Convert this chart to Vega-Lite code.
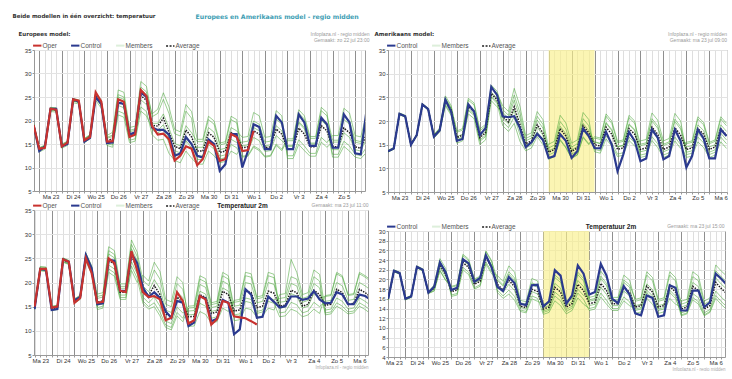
{
"$schema": "https://vega.github.io/schema/vega-lite/v6.json",
"background": "white",
"padding": {"left": 12, "top": 13, "right": 0, "bottom": 0},
"config": {
  "font": "Liberation Sans",
  "view": {"stroke": "#9a9a9a", "strokeWidth": 1},
  "axis": {"labelFont": "Liberation Sans", "labelFontSize": 6, "labelColor": "#333", "tickColor": "#999", "tickSize": 2, "domainColor": "#999", "labelPadding": 0, "titleFont": "Liberation Sans"},
  "axisX": {"grid": true},
  "axisY": {"gridColor": "#e3e3e3", "labelPadding": 1, "grid": true},
  "legend": {"orient": "top", "direction": "horizontal", "symbolType": "stroke", "symbolSize": 70, "symbolStrokeWidth": 2, "symbolOpacity": 1, "labelFont": "Liberation Sans", "labelFontSize": 6.5, "labelColor": "#555", "columnPadding": 10, "padding": 0, "offset": 0, "labelOffset": 2, "rowPadding": 0},
  "title": {"font": "DejaVu Sans", "fontWeight": "bold", "color": "#333", "offset": 0}
},
"title": {"text": "Beide modellen in één overzicht: temperatuur", "anchor": "start", "frame": "bounds", "fontSize": 5.5, "offset": -6},
"datasets": {
"tl": [
{"t":-6,"O":19,"C":19,"A":19,"m1":19.4,"m2":19.2,"m3":18.8,"m4":18.5,"m5":19.3,"m6":18.9},
{"t":0,"O":14,"C":13.5,"A":13.8,"m1":14.2,"m2":14,"m3":13.6,"m4":13.3,"m5":14.1,"m6":13.7},
{"t":6,"O":14.2,"C":14.5,"A":14.4,"m1":14.8,"m2":14.6,"m3":14.2,"m4":13.9,"m5":14.7,"m6":14.3},
{"t":12,"O":22.5,"C":22.5,"A":22.4,"m1":22.8,"m2":22.6,"m3":22.2,"m4":21.9,"m5":22.7,"m6":22.3},
{"t":18,"O":22.3,"C":22.5,"A":22.3,"m1":22.7,"m2":22.5,"m3":22.1,"m4":21.8,"m5":22.6,"m6":22.2},
{"t":24,"O":14.5,"C":14.5,"A":14.6,"m1":15,"m2":14.8,"m3":14.4,"m4":14.1,"m5":14.9,"m6":14.5},
{"t":30,"O":15.3,"C":15,"A":15.2,"m1":15.6,"m2":15.4,"m3":15,"m4":14.7,"m5":15.5,"m6":15.1},
{"t":36,"O":24.5,"C":24.5,"A":24.3,"m1":24.7,"m2":24.5,"m3":24.1,"m4":23.8,"m5":24.6,"m6":24.2},
{"t":42,"O":24.2,"C":24,"A":24,"m1":24.4,"m2":24.2,"m3":23.8,"m4":23.5,"m5":24.3,"m6":23.9},
{"t":48,"O":15.8,"C":15.5,"A":15.8,"m1":16.2,"m2":16,"m3":15.6,"m4":15.3,"m5":16.1,"m6":15.7},
{"t":54,"O":16.5,"C":16.3,"A":16.6,"m1":17,"m2":16.8,"m3":16.4,"m4":16.1,"m5":16.9,"m6":16.5},
{"t":60,"O":26,"C":25,"A":25.2,"m1":26,"m2":25.5,"m3":24.8,"m4":24.3,"m5":25.7,"m6":25},
{"t":66,"O":24,"C":23.5,"A":23.5,"m1":24.3,"m2":23.8,"m3":23.1,"m4":22.6,"m5":24,"m6":23.3},
{"t":72,"O":15.5,"C":15.2,"A":15.8,"m1":16.8,"m2":15.5,"m3":15,"m4":16.2,"m5":16.4,"m6":14.7},
{"t":78,"O":15.6,"C":15.3,"A":16,"m1":17.5,"m2":15.5,"m3":14.8,"m4":16.6,"m5":16.9,"m6":14.3},
{"t":84,"O":24.5,"C":23.8,"A":24,"m1":26.5,"m2":23.2,"m3":22,"m4":25,"m5":25.5,"m6":21.2},
{"t":90,"O":24,"C":23.5,"A":23.5,"m1":26,"m2":22.7,"m3":21.5,"m4":24.5,"m5":25,"m6":20.7},
{"t":96,"O":16.5,"C":17,"A":17,"m1":18.5,"m2":16.5,"m3":15.8,"m4":17.6,"m5":17.9,"m6":15.3},
{"t":102,"O":17,"C":17.5,"A":17.3,"m1":18.8,"m2":16.8,"m3":16.1,"m4":17.9,"m5":18.2,"m6":15.6},
{"t":108,"O":26.5,"C":26,"A":25.3,"m1":28.3,"m2":24.4,"m3":22.9,"m4":26.5,"m5":27.1,"m6":22},
{"t":114,"O":25.2,"C":25,"A":24.3,"m1":27.3,"m2":23.4,"m3":21.9,"m4":25.5,"m5":26.1,"m6":21},
{"t":120,"O":18.8,"C":18.5,"A":19,"m1":20.8,"m2":19.4,"m3":17,"m4":18,"m5":21.4,"m6":18.4},
{"t":126,"O":17,"C":18,"A":18.8,"m1":21.5,"m2":19.4,"m3":15.8,"m4":17.3,"m5":22.4,"m6":17.9},
{"t":132,"O":17.2,"C":18,"A":20.5,"m1":24.5,"m2":21.4,"m3":16,"m4":18.2,"m5":25.9,"m6":19.1},
{"t":138,"O":16,"C":17,"A":17.5,"m1":21.5,"m2":18.4,"m3":13,"m4":15.2,"m5":22.9,"m6":16.1},
{"t":144,"O":11.5,"C":12.5,"A":14.5,"m1":17.2,"m2":15.1,"m3":11.5,"m4":13,"m5":18.1,"m6":13.6},
{"t":150,"O":12.5,"C":13,"A":14,"m1":16.7,"m2":14.6,"m3":11,"m4":12.5,"m5":17.6,"m6":13.1},
{"t":156,"O":14.5,"C":16.5,"A":18,"m1":22,"m2":18.9,"m3":13.5,"m4":15.7,"m5":23.4,"m6":16.6},
{"t":162,"O":14,"C":15,"A":16.5,"m1":20.5,"m2":17.4,"m3":12,"m4":14.2,"m5":21.9,"m6":15.1},
{"t":168,"O":10.5,"C":12.5,"A":13.5,"m1":12.5,"m2":15.5,"m3":10.7,"m4":14.3,"m5":16,"m6":11.7},
{"t":174,"O":11.8,"C":12.1,"A":13.5,"m1":12.5,"m2":15.5,"m3":10.7,"m4":14.3,"m5":16,"m6":11.7},
{"t":180,"O":15.5,"C":16,"A":17.4,"m1":16,"m2":20.2,"m3":13.5,"m4":18.5,"m5":20.9,"m6":14.9},
{"t":186,"O":14.6,"C":15,"A":16.4,"m1":15,"m2":19.2,"m3":12.5,"m4":17.5,"m5":19.9,"m6":13.9},
{"t":192,"O":11.4,"C":9.3,"A":13.2,"m1":12.4,"m2":14.8,"m3":11,"m4":13.8,"m5":15.2,"m6":11.8},
{"t":198,"O":11.8,"C":10.7,"A":13.5,"m1":12.7,"m2":15.1,"m3":11.3,"m4":14.1,"m5":15.5,"m6":12.1},
{"t":204,"O":17.1,"C":17.1,"A":17.4,"m1":16,"m2":20.2,"m3":13.5,"m4":18.5,"m5":20.9,"m6":14.9},
{"t":210,"O":16.5,"C":17.1,"A":16.7,"m1":15.3,"m2":19.5,"m3":12.8,"m4":17.8,"m5":20.2,"m6":14.2},
{"t":216,"O":13.5,"C":10,"A":14.2,"m1":15.4,"m2":12.4,"m3":14.6,"m4":16.4,"m5":13.4,"m6":12.2},
{"t":222,"O":13.7,"C":13.5,"A":14.4,"m1":15.6,"m2":12.6,"m3":14.8,"m4":16.6,"m5":13.6,"m6":12.4},
{"t":228,"O":17.8,"C":19.2,"A":17.8,"m1":19.9,"m2":14.6,"m3":18.5,"m4":21.7,"m5":16.4,"m6":14.3},
{"t":234,"C":18.6,"A":17.1,"m1":19.2,"m2":13.9,"m3":17.8,"m4":21,"m5":15.7,"m6":13.6},
{"t":240,"C":13.9,"A":14.2,"m1":15.4,"m2":12.4,"m3":14.6,"m4":16.4,"m5":13.4,"m6":12.2},
{"t":246,"C":13.9,"A":14.4,"m1":15.6,"m2":12.6,"m3":14.8,"m4":16.6,"m5":13.6,"m6":12.4},
{"t":252,"C":21,"A":18.2,"m1":20.3,"m2":15,"m3":18.9,"m4":22.1,"m5":16.8,"m6":14.7},
{"t":258,"C":19.6,"A":17.1,"m1":19.2,"m2":13.9,"m3":17.8,"m4":21,"m5":15.7,"m6":13.6},
{"t":264,"C":13.9,"A":13.9,"m1":12.5,"m2":16.1,"m3":14.7,"m4":11.9,"m5":14.5,"m6":15.7},
{"t":270,"C":13.9,"A":13.9,"m1":12.5,"m2":16.1,"m3":14.7,"m4":11.9,"m5":14.5,"m6":15.7},
{"t":276,"C":21.3,"A":18.4,"m1":15.9,"m2":22.3,"m3":19.8,"m4":14.9,"m5":19.5,"m6":21.6},
{"t":282,"C":19.6,"A":17.1,"m1":14.6,"m2":21,"m3":18.5,"m4":13.6,"m5":18.2,"m6":20.3},
{"t":288,"C":14.6,"A":14.4,"m1":13,"m2":16.6,"m3":15.2,"m4":12.4,"m5":15,"m6":16.2},
{"t":294,"C":14.6,"A":14.4,"m1":13,"m2":16.6,"m3":15.2,"m4":12.4,"m5":15,"m6":16.2},
{"t":300,"C":20.6,"A":18.9,"m1":16.4,"m2":22.8,"m3":20.3,"m4":15.4,"m5":20,"m6":22.1},
{"t":306,"C":19.2,"A":17.8,"m1":15.3,"m2":21.7,"m3":19.2,"m4":14.3,"m5":18.9,"m6":21},
{"t":312,"C":14.2,"A":14.4,"m1":16.8,"m2":13.8,"m3":12.8,"m4":15.4,"m5":12.2,"m6":15.8},
{"t":318,"C":14.2,"A":14.4,"m1":16.8,"m2":13.8,"m3":12.8,"m4":15.4,"m5":12.2,"m6":15.8},
{"t":324,"C":21.3,"A":18.4,"m1":22.6,"m2":17.4,"m3":15.6,"m4":20.2,"m5":14.5,"m6":20.9},
{"t":330,"C":19.6,"A":17.4,"m1":21.6,"m2":16.4,"m3":14.6,"m4":19.2,"m5":13.5,"m6":19.9},
{"t":336,"C":13,"A":14.4,"m1":16.8,"m2":13.8,"m3":12.8,"m4":15.4,"m5":12.2,"m6":15.8},
{"t":342,"C":12.8,"A":14.1,"m1":16.5,"m2":13.5,"m3":12.5,"m4":15.1,"m5":11.9,"m6":15.5},
{"t":348,"C":22,"A":17.1,"m1":21.3,"m2":16.1,"m3":14.3,"m4":18.9,"m5":13.2,"m6":19.6}
],
"tr": [
{"t":0,"C":13.6,"A":13.6,"m1":13.8,"m2":13.7,"m3":13.5,"m4":13.4,"m5":13.7,"m6":13.6},
{"t":6,"C":14.2,"A":14.2,"m1":14.4,"m2":14.3,"m3":14.1,"m4":14,"m5":14.3,"m6":14.2},
{"t":12,"C":21.5,"A":21.5,"m1":21.7,"m2":21.6,"m3":21.4,"m4":21.3,"m5":21.6,"m6":21.5},
{"t":18,"C":21,"A":21,"m1":21.2,"m2":21.1,"m3":20.9,"m4":20.8,"m5":21.1,"m6":21},
{"t":24,"C":15,"A":15,"m1":15.2,"m2":15.1,"m3":14.9,"m4":14.8,"m5":15.1,"m6":15},
{"t":30,"C":17,"A":17,"m1":17.2,"m2":17.1,"m3":16.9,"m4":16.8,"m5":17.1,"m6":17},
{"t":36,"C":23.5,"A":23.5,"m1":23.7,"m2":23.6,"m3":23.4,"m4":23.3,"m5":23.6,"m6":23.5},
{"t":42,"C":22.5,"A":22.5,"m1":22.7,"m2":22.6,"m3":22.4,"m4":22.3,"m5":22.6,"m6":22.5},
{"t":48,"C":16.7,"A":16.8,"m1":17.2,"m2":16.7,"m3":16.5,"m4":17,"m5":17,"m6":16.4},
{"t":54,"C":18,"A":18.1,"m1":18.5,"m2":18,"m3":17.8,"m4":18.3,"m5":18.3,"m6":17.7},
{"t":60,"C":24.5,"A":24.3,"m1":25.3,"m2":24,"m3":23.5,"m4":24.7,"m5":24.9,"m6":23.2},
{"t":66,"C":22,"A":22.3,"m1":23.3,"m2":22,"m3":21.5,"m4":22.7,"m5":22.9,"m6":21.2},
{"t":72,"C":15.8,"A":16.5,"m1":17.6,"m2":16.7,"m3":15.3,"m4":15.9,"m5":17.9,"m6":16.1},
{"t":78,"C":16.2,"A":17,"m1":18.1,"m2":17.2,"m3":15.8,"m4":16.4,"m5":18.4,"m6":16.6},
{"t":84,"C":23.5,"A":23,"m1":24.4,"m2":23.3,"m3":21.5,"m4":22.2,"m5":24.8,"m6":22.5},
{"t":90,"C":22,"A":22,"m1":23.4,"m2":22.3,"m3":20.5,"m4":21.2,"m5":23.8,"m6":21.5},
{"t":96,"C":17,"A":16.5,"m1":17.9,"m2":16.8,"m3":15,"m4":15.7,"m5":18.3,"m6":16},
{"t":102,"C":18.5,"A":17.5,"m1":18.9,"m2":17.8,"m3":16,"m4":16.7,"m5":19.3,"m6":17},
{"t":108,"C":27.2,"A":25.8,"m1":27.2,"m2":26.1,"m3":24.3,"m4":25,"m5":27.6,"m6":25.3},
{"t":114,"C":25.5,"A":24.5,"m1":25.9,"m2":24.8,"m3":23,"m4":23.7,"m5":26.3,"m6":24},
{"t":120,"C":21,"A":21,"m1":23.2,"m2":19.8,"m3":21.8,"m4":19,"m5":22.4,"m6":20.6},
{"t":126,"C":20.8,"A":19.8,"m1":22,"m2":18.6,"m3":20.6,"m4":17.8,"m5":21.2,"m6":19.4},
{"t":132,"C":21,"A":23,"m1":26.9,"m2":20.9,"m3":24.4,"m4":19.5,"m5":25.5,"m6":22.3},
{"t":138,"C":18.5,"A":19.2,"m1":23.1,"m2":17.1,"m3":20.6,"m4":15.7,"m5":21.7,"m6":18.5},
{"t":144,"C":14.5,"A":15.2,"m1":16.9,"m2":14.3,"m3":15.8,"m4":13.7,"m5":16.3,"m6":14.9},
{"t":150,"C":15.5,"A":15.8,"m1":17.5,"m2":14.9,"m3":16.4,"m4":14.3,"m5":16.9,"m6":15.5},
{"t":156,"C":17.3,"A":19.2,"m1":22,"m2":17.7,"m3":20.2,"m4":16.7,"m5":21,"m6":18.7},
{"t":162,"C":16,"A":17.5,"m1":20.3,"m2":16,"m3":18.5,"m4":15,"m5":19.3,"m6":17},
{"t":168,"C":12.2,"A":13.4,"m1":14.3,"m2":12,"m3":13.7,"m4":15.1,"m5":12.8,"m6":11.9},
{"t":174,"C":12.6,"A":14,"m1":14.9,"m2":12.6,"m3":14.3,"m4":15.7,"m5":13.4,"m6":12.5},
{"t":180,"C":17.2,"A":18.4,"m1":19.9,"m2":16.1,"m3":18.9,"m4":21.2,"m5":17.4,"m6":15.9},
{"t":186,"C":15.8,"A":16.8,"m1":18.3,"m2":14.5,"m3":17.3,"m4":19.6,"m5":15.8,"m6":14.3},
{"t":192,"C":12.2,"A":13.6,"m1":14.5,"m2":12.2,"m3":13.9,"m4":15.3,"m5":13,"m6":12.1},
{"t":198,"C":13.6,"A":14.3,"m1":15.2,"m2":12.9,"m3":14.6,"m4":16,"m5":13.7,"m6":12.8},
{"t":204,"C":18.4,"A":19,"m1":20.5,"m2":16.7,"m3":19.5,"m4":21.8,"m5":18,"m6":16.5},
{"t":210,"C":16.8,"A":17.5,"m1":19,"m2":15.2,"m3":18,"m4":20.3,"m5":16.5,"m6":15},
{"t":216,"C":14.3,"A":15,"m1":14,"m2":16.7,"m3":15.6,"m4":13.5,"m5":15.5,"m6":16.4},
{"t":222,"C":14.2,"A":14.7,"m1":13.7,"m2":16.4,"m3":15.3,"m4":13.2,"m5":15.2,"m6":16.1},
{"t":228,"C":17.7,"A":18.7,"m1":16.9,"m2":21.5,"m3":19.7,"m4":16.2,"m5":19.5,"m6":21},
{"t":234,"C":15,"A":17.2,"m1":15.4,"m2":20,"m3":18.2,"m4":14.7,"m5":18,"m6":19.5},
{"t":240,"C":9.4,"A":14,"m1":13,"m2":15.7,"m3":14.6,"m4":12.5,"m5":14.5,"m6":15.4},
{"t":246,"C":12.9,"A":14.3,"m1":13.3,"m2":16,"m3":14.9,"m4":12.8,"m5":14.8,"m6":15.7},
{"t":252,"C":17.7,"A":18.4,"m1":16.6,"m2":21.2,"m3":19.4,"m4":15.9,"m5":19.2,"m6":20.7},
{"t":258,"C":15.8,"A":17.2,"m1":15.4,"m2":20,"m3":18.2,"m4":14.7,"m5":18,"m6":19.5},
{"t":264,"C":11.5,"A":14,"m1":15.8,"m2":13.5,"m3":12.8,"m4":14.8,"m5":12.3,"m6":15.1},
{"t":270,"C":12.1,"A":14.3,"m1":16.1,"m2":13.8,"m3":13.1,"m4":15.1,"m5":12.6,"m6":15.4},
{"t":276,"C":18.2,"A":18.7,"m1":21.7,"m2":17.9,"m3":16.7,"m4":20,"m5":15.9,"m6":20.5},
{"t":282,"C":16.5,"A":17.2,"m1":20.2,"m2":16.4,"m3":15.2,"m4":18.5,"m5":14.4,"m6":19},
{"t":288,"C":11.9,"A":14,"m1":15.8,"m2":13.5,"m3":12.8,"m4":14.8,"m5":12.3,"m6":15.1},
{"t":294,"C":12.6,"A":14.5,"m1":16.3,"m2":14,"m3":13.3,"m4":15.3,"m5":12.8,"m6":15.6},
{"t":300,"C":18.2,"A":18.6,"m1":21.6,"m2":17.8,"m3":16.6,"m4":19.9,"m5":15.8,"m6":20.4},
{"t":306,"C":15.8,"A":17,"m1":20,"m2":16.2,"m3":15,"m4":18.3,"m5":14.2,"m6":18.8},
{"t":312,"C":10.2,"A":14,"m1":13.4,"m2":15.2,"m3":12.3,"m4":14.5,"m5":15.5,"m6":12.9},
{"t":318,"C":12.6,"A":14.3,"m1":13.7,"m2":15.5,"m3":12.6,"m4":14.8,"m5":15.8,"m6":13.2},
{"t":324,"C":18.2,"A":18.4,"m1":17.4,"m2":20.4,"m3":15.6,"m4":19.2,"m5":20.9,"m6":16.6},
{"t":330,"C":16.3,"A":17.2,"m1":16.2,"m2":19.2,"m3":14.4,"m4":18,"m5":19.7,"m6":15.4},
{"t":336,"C":12.1,"A":14,"m1":13.4,"m2":15.2,"m3":12.3,"m4":14.5,"m5":15.5,"m6":12.9},
{"t":342,"C":12.1,"A":14.5,"m1":13.9,"m2":15.7,"m3":12.8,"m4":15,"m5":16,"m6":13.4},
{"t":348,"C":18.2,"A":18.4,"m1":17.4,"m2":20.4,"m3":15.6,"m4":19.2,"m5":20.9,"m6":16.6},
{"t":354,"C":16.8,"A":17,"m1":16,"m2":19,"m3":14.2,"m4":17.8,"m5":19.5,"m6":15.2}
],
"bl": [
{"t":6,"O":15,"C":14.5,"A":14.8,"m1":14.6,"m2":15.2,"m3":14.4,"m4":15,"m5":15.3,"m6":14.5},
{"t":12,"O":22.8,"C":22.8,"A":22.8,"m1":22.6,"m2":23.2,"m3":22.4,"m4":23,"m5":23.3,"m6":22.5},
{"t":18,"O":22.8,"C":22.6,"A":22.7,"m1":22.5,"m2":23.1,"m3":22.3,"m4":22.9,"m5":23.2,"m6":22.4},
{"t":24,"O":14.8,"C":14.3,"A":14.6,"m1":14.4,"m2":15,"m3":14.2,"m4":14.8,"m5":15.1,"m6":14.3},
{"t":30,"O":15,"C":14.5,"A":14.8,"m1":14.6,"m2":15.2,"m3":14.4,"m4":15,"m5":15.3,"m6":14.5},
{"t":36,"O":24.8,"C":24.8,"A":24.6,"m1":24.4,"m2":25,"m3":24.2,"m4":24.8,"m5":25.1,"m6":24.3},
{"t":42,"O":24.3,"C":24.3,"A":24.1,"m1":23.9,"m2":24.5,"m3":23.7,"m4":24.3,"m5":24.6,"m6":23.8},
{"t":48,"O":15.8,"C":16.3,"A":16.1,"m1":15.9,"m2":16.5,"m3":15.7,"m4":16.3,"m5":16.6,"m6":15.8},
{"t":54,"O":16.8,"C":17,"A":16.9,"m1":16.7,"m2":17.3,"m3":16.5,"m4":17.1,"m5":17.4,"m6":16.6},
{"t":60,"O":25,"C":25.7,"A":25.2,"m1":24.9,"m2":25.9,"m3":24.4,"m4":25.6,"m5":26.1,"m6":24.7},
{"t":66,"O":22,"C":23,"A":22.6,"m1":22.3,"m2":23.3,"m3":21.8,"m4":23,"m5":23.5,"m6":22.1},
{"t":72,"O":15.8,"C":15.5,"A":15.9,"m1":16.7,"m2":14.4,"m3":17.1,"m4":15.3,"m5":17.6,"m6":14.8},
{"t":78,"O":16,"C":15.7,"A":16.2,"m1":17,"m2":14.7,"m3":17.4,"m4":15.6,"m5":17.9,"m6":15.1},
{"t":84,"O":25,"C":24.7,"A":24.6,"m1":25.9,"m2":22.1,"m3":26.6,"m4":23.6,"m5":27.4,"m6":22.8},
{"t":90,"O":24,"C":24.5,"A":23.8,"m1":25.1,"m2":21.3,"m3":25.8,"m4":22.8,"m5":26.6,"m6":22},
{"t":96,"O":18.3,"C":18.3,"A":18,"m1":18.8,"m2":16.5,"m3":19.2,"m4":17.4,"m5":19.7,"m6":16.9},
{"t":102,"O":18,"C":18.2,"A":18,"m1":18.8,"m2":16.5,"m3":19.2,"m4":17.4,"m5":19.7,"m6":16.9},
{"t":108,"O":26.5,"C":26,"A":25.5,"m1":27,"m2":22.5,"m3":27.9,"m4":24.3,"m5":28.8,"m6":23.4},
{"t":114,"O":22.5,"C":24,"A":23,"m1":24.5,"m2":20,"m3":25.4,"m4":21.8,"m5":26.3,"m6":20.9},
{"t":120,"O":18,"C":19,"A":18.5,"m1":16.2,"m2":21.5,"m3":19.3,"m4":17,"m5":20.5,"m6":15.7},
{"t":126,"O":17,"C":17,"A":17.3,"m1":15,"m2":20.3,"m3":18.1,"m4":15.8,"m5":19.3,"m6":14.5},
{"t":132,"O":17.2,"C":18,"A":19.4,"m1":15.8,"m2":24.2,"m3":20.6,"m4":17,"m5":22.6,"m6":15},
{"t":138,"O":16.5,"C":16.8,"A":17.5,"m1":13.9,"m2":22.3,"m3":18.7,"m4":15.1,"m5":20.7,"m6":13.1},
{"t":144,"O":12.2,"C":14,"A":13.5,"m1":11.2,"m2":16.5,"m3":14.3,"m4":12,"m5":15.5,"m6":10.7},
{"t":150,"O":12.7,"C":12.7,"A":13,"m1":10.7,"m2":16,"m3":13.8,"m4":11.5,"m5":15,"m6":10.2},
{"t":156,"O":18,"C":16.2,"A":17,"m1":13.8,"m2":21.2,"m3":18.1,"m4":14.9,"m5":19.8,"m6":13.1},
{"t":162,"O":16.2,"C":15.8,"A":15.8,"m1":12.6,"m2":20,"m3":16.9,"m4":13.7,"m5":18.6,"m6":11.9},
{"t":168,"O":11.5,"C":11,"A":12.9,"m1":15.1,"m2":11.9,"m3":10.9,"m4":14.1,"m5":13.3,"m6":14.7},
{"t":174,"O":12.2,"C":11.7,"A":13,"m1":15.2,"m2":12,"m3":11,"m4":14.2,"m5":13.4,"m6":14.8},
{"t":180,"O":17.2,"C":17.2,"A":17.5,"m1":21.4,"m2":15.7,"m3":14,"m4":19.6,"m5":18.2,"m6":20.7},
{"t":186,"O":16.5,"C":16.7,"A":16.9,"m1":20.8,"m2":15.1,"m3":13.4,"m4":19,"m5":17.6,"m6":20.1},
{"t":192,"O":11.3,"C":12,"A":13.6,"m1":15.8,"m2":12.6,"m3":11.6,"m4":14.8,"m5":14,"m6":15.4},
{"t":198,"O":12.4,"C":12.5,"A":13.9,"m1":16.1,"m2":12.9,"m3":11.9,"m4":15.1,"m5":14.3,"m6":15.7},
{"t":204,"O":16.2,"C":16.4,"A":18.2,"m1":22.1,"m2":16.4,"m3":14.7,"m4":20.3,"m5":18.9,"m6":21.4},
{"t":210,"O":15.8,"C":15.8,"A":17.5,"m1":21.4,"m2":15.7,"m3":14,"m4":19.6,"m5":18.2,"m6":20.7},
{"t":216,"O":13,"C":9.3,"A":14.1,"m1":13.3,"m2":15.9,"m3":16.3,"m4":12.1,"m5":12.9,"m6":15.1},
{"t":222,"O":12.8,"C":10.3,"A":14.3,"m1":13.5,"m2":16.1,"m3":16.5,"m4":12.3,"m5":13.1,"m6":15.3},
{"t":228,"O":12.6,"C":18.6,"A":18.2,"m1":16.8,"m2":21.4,"m3":22.1,"m4":14.7,"m5":16.1,"m6":20},
{"t":234,"O":12,"C":17.5,"A":17.9,"m1":16.5,"m2":21.1,"m3":21.8,"m4":14.4,"m5":15.8,"m6":19.7},
{"t":240,"O":11.3,"C":12.7,"A":14.8,"m1":14,"m2":16.6,"m3":17,"m4":12.8,"m5":13.6,"m6":15.8},
{"t":246,"C":12.9,"A":15.1,"m1":14.3,"m2":16.9,"m3":17.3,"m4":13.1,"m5":13.9,"m6":16.1},
{"t":252,"C":17.1,"A":18.2,"m1":16.8,"m2":21.4,"m3":22.1,"m4":14.7,"m5":16.1,"m6":20},
{"t":258,"C":16,"A":17.8,"m1":16.4,"m2":21,"m3":21.7,"m4":14.3,"m5":15.7,"m6":19.6},
{"t":264,"C":14.8,"A":15.1,"m1":16.7,"m2":13.7,"m3":14.7,"m4":17.5,"m5":12.9,"m6":15.9},
{"t":270,"C":15.1,"A":15.3,"m1":16.9,"m2":13.9,"m3":14.9,"m4":17.7,"m5":13.1,"m6":16.1},
{"t":276,"C":17.1,"A":18.4,"m1":21.2,"m2":15.9,"m3":17.7,"m4":24.8,"m5":14.5,"m6":19.8},
{"t":282,"C":17.1,"A":17.9,"m1":20.7,"m2":15.4,"m3":17.2,"m4":22.1,"m5":14,"m6":19.3},
{"t":288,"C":16.4,"A":15.1,"m1":16.7,"m2":13.7,"m3":14.7,"m4":17.5,"m5":12.9,"m6":15.9},
{"t":294,"C":16.7,"A":15.5,"m1":17.1,"m2":14.1,"m3":15.1,"m4":17.9,"m5":13.3,"m6":16.3},
{"t":300,"C":18.2,"A":18.4,"m1":21.2,"m2":15.9,"m3":17.7,"m4":22.6,"m5":14.5,"m6":19.8},
{"t":306,"C":16.5,"A":17.5,"m1":20.3,"m2":15,"m3":16.8,"m4":21.7,"m5":13.6,"m6":18.9},
{"t":312,"C":15.7,"A":15.3,"m1":13.3,"m2":16.1,"m3":17.1,"m4":14.3,"m5":17.3,"m6":13.7},
{"t":318,"C":15.8,"A":15.5,"m1":13.5,"m2":16.3,"m3":17.3,"m4":14.5,"m5":17.5,"m6":13.9},
{"t":324,"C":18,"A":18.6,"m1":15.1,"m2":20,"m3":21.8,"m4":16.8,"m5":22.1,"m6":15.8},
{"t":330,"C":17.5,"A":17.9,"m1":14.4,"m2":19.3,"m3":21.1,"m4":16.1,"m5":21.4,"m6":15.1},
{"t":336,"C":15.5,"A":15.5,"m1":13.5,"m2":16.3,"m3":17.3,"m4":14.5,"m5":17.5,"m6":13.9},
{"t":342,"C":15.5,"A":15.7,"m1":13.7,"m2":16.5,"m3":17.5,"m4":14.7,"m5":17.7,"m6":14.1},
{"t":348,"C":17.5,"A":18.6,"m1":15.1,"m2":20,"m3":21.8,"m4":16.8,"m5":22.1,"m6":15.8},
{"t":354,"C":17.2,"A":17.9,"m1":14.4,"m2":19.3,"m3":21.1,"m4":16.1,"m5":21.4,"m6":15.1},
{"t":360,"C":16.4,"A":17,"m1":13.5,"m2":18.4,"m3":20.2,"m4":15.2,"m5":20.5,"m6":14.2}
],
"br": [
{"t":6,"C":16,"A":16,"m1":16.1,"m2":15.8,"m3":16,"m4":16.2,"m5":15.9,"m6":15.8},
{"t":12,"C":21.8,"A":21.8,"m1":21.9,"m2":21.6,"m3":21.8,"m4":22,"m5":21.7,"m6":21.6},
{"t":18,"C":21.3,"A":21.3,"m1":21.4,"m2":21.1,"m3":21.3,"m4":21.5,"m5":21.2,"m6":21.1},
{"t":24,"C":16,"A":16,"m1":16.1,"m2":15.8,"m3":16,"m4":16.2,"m5":15.9,"m6":15.8},
{"t":30,"C":16.5,"A":16.5,"m1":16.6,"m2":16.3,"m3":16.5,"m4":16.7,"m5":16.4,"m6":16.3},
{"t":36,"C":22.6,"A":22.6,"m1":22.7,"m2":22.4,"m3":22.6,"m4":22.8,"m5":22.5,"m6":22.4},
{"t":42,"C":22,"A":22,"m1":22.1,"m2":21.8,"m3":22,"m4":22.2,"m5":21.9,"m6":21.8},
{"t":48,"C":17.3,"A":17.3,"m1":17.4,"m2":17.1,"m3":17.3,"m4":17.5,"m5":17.2,"m6":17.1},
{"t":54,"C":18.5,"A":18.2,"m1":18.6,"m2":17.7,"m3":18.3,"m4":18.9,"m5":18,"m6":17.6},
{"t":60,"C":23.5,"A":23,"m1":23.7,"m2":21.9,"m3":23.2,"m4":24.3,"m5":22.5,"m6":21.8},
{"t":66,"C":21.5,"A":21,"m1":21.7,"m2":19.9,"m3":21.2,"m4":22.3,"m5":20.5,"m6":19.8},
{"t":72,"C":17.8,"A":17.5,"m1":16.8,"m2":18.6,"m3":17.9,"m4":16.5,"m5":17.8,"m6":18.4},
{"t":78,"C":18.3,"A":17.8,"m1":17.1,"m2":18.9,"m3":18.2,"m4":16.8,"m5":18.1,"m6":18.7},
{"t":84,"C":24.2,"A":23.5,"m1":22.5,"m2":25.2,"m3":24.1,"m4":22,"m5":24,"m6":24.9},
{"t":90,"C":23.3,"A":22.5,"m1":21.5,"m2":24.2,"m3":23.1,"m4":21,"m5":23,"m6":23.9},
{"t":96,"C":19.5,"A":19,"m1":18.3,"m2":20.1,"m3":19.4,"m4":18,"m5":19.3,"m6":19.9},
{"t":102,"C":20.3,"A":19.6,"m1":18.9,"m2":20.7,"m3":20,"m4":18.6,"m5":19.9,"m6":20.5},
{"t":108,"C":25,"A":24.5,"m1":23.6,"m2":25.9,"m3":25,"m4":23.2,"m5":24.9,"m6":25.7},
{"t":114,"C":22.5,"A":22.5,"m1":21.6,"m2":23.9,"m3":23,"m4":21.2,"m5":22.9,"m6":23.7},
{"t":120,"C":18.5,"A":19,"m1":20.8,"m2":18.5,"m3":17.8,"m4":19.8,"m5":17.3,"m6":20.1},
{"t":126,"C":17.6,"A":17.8,"m1":19.6,"m2":17.3,"m3":16.6,"m4":18.6,"m5":16.1,"m6":18.9},
{"t":132,"C":20.5,"A":19.8,"m1":22.8,"m2":19,"m3":17.8,"m4":21.1,"m5":17,"m6":21.6},
{"t":138,"C":19.2,"A":18.5,"m1":21.5,"m2":17.7,"m3":16.5,"m4":19.8,"m5":15.7,"m6":20.3},
{"t":144,"C":15,"A":14.5,"m1":15.7,"m2":14.2,"m3":13.7,"m4":15,"m5":13.4,"m6":15.2},
{"t":150,"C":14.7,"A":14.2,"m1":15.4,"m2":13.9,"m3":13.4,"m4":14.7,"m5":13.1,"m6":14.9},
{"t":156,"C":18.8,"A":18,"m1":20.2,"m2":17.5,"m3":16.6,"m4":18.9,"m5":16,"m6":19.3},
{"t":162,"C":18.9,"A":17.5,"m1":19.7,"m2":17,"m3":16.1,"m4":18.4,"m5":15.5,"m6":18.8},
{"t":168,"C":14.4,"A":13.9,"m1":13.5,"m2":14.7,"m3":12.8,"m4":14.2,"m5":14.9,"m6":13.2},
{"t":174,"C":15.5,"A":14.3,"m1":13.9,"m2":15.1,"m3":13.2,"m4":14.6,"m5":15.3,"m6":13.6},
{"t":180,"C":21.9,"A":18.4,"m1":17.4,"m2":20.4,"m3":15.6,"m4":19.2,"m5":20.9,"m6":16.6},
{"t":186,"C":20.8,"A":17.4,"m1":16.4,"m2":19.4,"m3":14.6,"m4":18.2,"m5":19.9,"m6":15.6},
{"t":192,"C":15,"A":14.3,"m1":13.8,"m2":15.3,"m3":12.9,"m4":14.7,"m5":15.6,"m6":13.4},
{"t":198,"C":16.7,"A":15,"m1":14.5,"m2":16,"m3":13.6,"m4":15.4,"m5":16.3,"m6":14.1},
{"t":204,"C":22.9,"A":19,"m1":18,"m2":21,"m3":16.2,"m4":19.8,"m5":21.5,"m6":17.2},
{"t":210,"C":21.2,"A":17.7,"m1":16.7,"m2":19.7,"m3":14.9,"m4":18.5,"m5":20.2,"m6":15.9},
{"t":216,"C":16.9,"A":15,"m1":16.3,"m2":14.6,"m3":14,"m4":15.5,"m5":15.8,"m6":13.6},
{"t":222,"C":17.4,"A":15.3,"m1":16.6,"m2":14.9,"m3":14.3,"m4":15.8,"m5":16.1,"m6":13.9},
{"t":228,"C":23.2,"A":19.2,"m1":21.7,"m2":18.4,"m3":17.2,"m4":20.2,"m5":20.7,"m6":16.4},
{"t":234,"C":20.8,"A":17.7,"m1":20.2,"m2":16.9,"m3":15.7,"m4":18.7,"m5":19.2,"m6":14.9},
{"t":240,"C":16,"A":15,"m1":16.3,"m2":14.6,"m3":14,"m4":15.5,"m5":15.8,"m6":13.6},
{"t":246,"C":15.1,"A":15,"m1":16.3,"m2":14.6,"m3":14,"m4":15.5,"m5":15.8,"m6":13.6},
{"t":252,"C":18.6,"A":18.4,"m1":20.9,"m2":17.6,"m3":16.4,"m4":19.4,"m5":19.9,"m6":15.6},
{"t":258,"C":16.9,"A":17.4,"m1":19.9,"m2":16.6,"m3":15.4,"m4":18.4,"m5":18.9,"m6":14.6},
{"t":264,"C":13,"A":14.3,"m1":15.5,"m2":14.6,"m3":13,"m4":13.6,"m5":15.9,"m6":13.9},
{"t":270,"C":12.6,"A":14.6,"m1":15.8,"m2":14.9,"m3":13.3,"m4":13.9,"m5":16.2,"m6":14.2},
{"t":276,"C":16.7,"A":18.6,"m1":20.9,"m2":19.1,"m3":16.1,"m4":17.3,"m5":21.6,"m6":17.8},
{"t":282,"C":16.2,"A":17.4,"m1":19.7,"m2":17.9,"m3":14.9,"m4":16.1,"m5":20.4,"m6":16.6},
{"t":288,"C":12.3,"A":14.3,"m1":15.5,"m2":14.6,"m3":13,"m4":13.6,"m5":15.9,"m6":13.9},
{"t":294,"C":12.6,"A":14.6,"m1":15.8,"m2":14.9,"m3":13.3,"m4":13.9,"m5":16.2,"m6":14.2},
{"t":300,"C":18.8,"A":18.6,"m1":20.9,"m2":19.1,"m3":16.1,"m4":17.3,"m5":21.6,"m6":17.8},
{"t":306,"C":18.3,"A":17.4,"m1":19.7,"m2":17.9,"m3":14.9,"m4":16.1,"m5":20.4,"m6":16.6},
{"t":312,"C":13.6,"A":13.9,"m1":12.7,"m2":15.5,"m3":14.3,"m4":13.1,"m5":14.9,"m6":12.5},
{"t":318,"C":13.6,"A":14.3,"m1":13.1,"m2":15.9,"m3":14.7,"m4":13.5,"m5":15.3,"m6":12.9},
{"t":324,"C":17.7,"A":18.6,"m1":16.3,"m2":21.6,"m3":19.4,"m4":17.1,"m5":20.6,"m6":15.8},
{"t":330,"C":17.7,"A":17.7,"m1":15.4,"m2":20.7,"m3":18.5,"m4":16.2,"m5":19.7,"m6":14.9},
{"t":336,"C":14.3,"A":13.9,"m1":12.7,"m2":15.5,"m3":14.3,"m4":13.1,"m5":14.9,"m6":12.5},
{"t":342,"C":15.3,"A":14.6,"m1":13.4,"m2":16.2,"m3":15,"m4":13.8,"m5":15.6,"m6":13.2},
{"t":348,"C":21.2,"A":19.4,"m1":16.7,"m2":23,"m3":20.3,"m4":17.6,"m5":21.8,"m6":16.1},
{"t":354,"C":20.1,"A":18.1,"m1":15.4,"m2":21.7,"m3":19,"m4":16.3,"m5":20.5,"m6":14.8},
{"t":360,"C":18.8,"A":17,"m1":14.3,"m2":20.6,"m3":17.9,"m4":15.2,"m5":19.4,"m6":13.7}
]
},
"resolve": {"scale": {"color": "independent"}},
"vconcat": [{
  "title": {"text": "Europees en Amerikaans model - regio midden", "anchor": "start", "frame": "bounds", "fontSize": 6.2, "color": "#3d9db3", "dx": 183, "offset": 12},
  "resolve": {"scale": {"color": "independent"}},
  "spacing": -2,
  "hconcat": [
    {"spacing": 1, "resolve": {"scale": {"color": "independent"}}, "vconcat": [
      {"title": {"text": "Europees model:", "anchor": "start", "frame": "bounds", "fontSize": 5.5, "offset": -5.5},
       "resolve": {"scale": {"color": "independent"}},
       "vconcat": [{
        "title": {"text": ["Infoplaza.nl - regio midden", "Gemaakt: zo 22 jul 23:00"], "anchor": "end", "frame": "bounds", "font": "Liberation Sans", "fontSize": 5, "fontWeight": "normal", "color": "#9a9a9a", "lineHeight": 6, "offset": -1.5, "dx": 4},
        "resolve": {"scale": {"color": "independent"}},
        "vconcat": [{
        "width": 331, "height": 141,
        "data": {"name": "tl"},
        "transform": [{"fold": ["A","C","O","m1","m2","m3","m4","m5","m6"], "as": ["k","v"]}],
        "encoding": {
          "x": {"field": "t", "type": "quantitative", "scale": {"domain": [-5.6, 346.5], "nice": false, "zero": false},
            "axis": {"title": null, "grid": true, "values": [0,6,12,18,24,30,36,42,48,54,60,66,72,78,84,90,96,102,108,114,120,126,132,138,144,150,156,162,168,174,180,186,192,198,204,210,216,222,228,234,240,246,252,258,264,270,276,282,288,294,300,306,312,318,324,330,336,342],
              "gridColor": {"condition": {"test": "datum.value % 24 === 0", "value": "#8f8f8f"}, "value": "#dedede"},
              "labelOverlap": false, "labelFlush": false,
              "labelExpr": "datum.value % 24 === 12 ? ['Ma 23','Di 24','Wo 25','Do 26','Vr 27','Za 28','Zo 29','Ma 30','Di 31','Wo 1','Do 2','Vr 3','Za 4','Zo 5','Ma 6'][floor(datum.value / 24)] : ''"}},
          "y": {"field": "v", "type": "quantitative", "scale": {"domain": [5, 35], "nice": false, "zero": false},
            "axis": {"title": null, "values": [5,10,15,20,25,30,35], "minExtent": 15, "maxExtent": 15}}
        },
        "layer": [
          {"transform": [{"filter": {"field": "k", "oneOf": ["m1","m2","m3","m4","m5","m6"]}}],
           "mark": {"type": "line", "strokeWidth": 1, "opacity": 0.55, "clip": true},
           "encoding": {"detail": {"field": "k"},
             "color": {"datum": "Members", "scale": {"domain": ["Oper","Control","Members","Average"], "range": ["#c8322f","#2b3a8f","#4aa83a","#1e1e1e"]},
               "legend": {"title": null, "symbolOpacity": 1, "encode": {"symbols": {"update": {"strokeDash": {"signal": "datum.label === 'Average' ? [2,1.5] : null"}, "strokeWidth": {"signal": "datum.label === 'Average' ? 1.5 : 2"}, "opacity": {"signal": "datum.label === 'Members' ? 0.3 : 1"}, "strokeOpacity": {"signal": "datum.label === 'Members' ? 0.6 : 1"}}}}}}}},
          {"transform": [{"filter": {"field": "k", "equal": "A"}}],
           "mark": {"type": "line", "strokeWidth": 1.5, "strokeDash": [1.5, 1.2], "clip": true},
           "encoding": {"color": {"datum": "Average", "scale": {"domain": ["Oper","Control","Members","Average"], "range": ["#c8322f","#2b3a8f","#4aa83a","#1e1e1e"]}}}},
          {"transform": [{"filter": {"field": "k", "equal": "C"}}],
           "mark": {"type": "line", "strokeWidth": 2.2, "clip": true},
           "encoding": {"color": {"datum": "Control", "scale": {"domain": ["Oper","Control","Members","Average"], "range": ["#c8322f","#2b3a8f","#4aa83a","#1e1e1e"]}}}},
          {"transform": [{"filter": {"field": "k", "equal": "O"}}],
           "mark": {"type": "line", "strokeWidth": 2.2, "clip": true},
           "encoding": {"color": {"datum": "Oper", "scale": {"domain": ["Oper","Control","Members","Average"], "range": ["#c8322f","#2b3a8f","#4aa83a","#1e1e1e"]}}}}
        ]
      }]}]},
      {"title": {"text": "Gemaakt: ma 23 jul 11:00", "anchor": "end", "frame": "bounds", "font": "Liberation Sans", "fontSize": 5, "fontWeight": "normal", "color": "#9a9a9a", "offset": -6.5},
       "resolve": {"scale": {"color": "independent"}},
       "vconcat": [{
        "title": {"text": "Temperatuur 2m", "anchor": "middle", "frame": "bounds", "font": "Liberation Sans", "fontSize": 6.5, "fontWeight": "bold", "color": "#222", "dx": 52, "offset": -7.5},
        "resolve": {"scale": {"color": "independent"}},
        "vconcat": [{
        "width": 334, "height": 145,
        "data": {"name": "bl"},
        "transform": [{"fold": ["A","C","O","m1","m2","m3","m4","m5","m6"], "as": ["k","v"]}],
        "encoding": {
          "x": {"field": "t", "type": "quantitative", "scale": {"domain": [5.4, 357], "nice": false, "zero": false},
            "axis": {"title": "Infoplaza.nl - regio midden", "titleAnchor": "end", "titleAlign": "right", "titleFontSize": 4.5, "titleFontWeight": "normal", "titleColor": "#aaa", "titlePadding": 1, "grid": true,
              "values": [6,12,18,24,30,36,42,48,54,60,66,72,78,84,90,96,102,108,114,120,126,132,138,144,150,156,162,168,174,180,186,192,198,204,210,216,222,228,234,240,246,252,258,264,270,276,282,288,294,300,306,312,318,324,330,336,342,348,354],
              "gridColor": {"condition": {"test": "datum.value % 24 === 0", "value": "#8f8f8f"}, "value": "#dedede"},
              "labelOverlap": false, "labelFlush": false,
              "labelExpr": "datum.value % 24 === 12 ? ['Ma 23','Di 24','Wo 25','Do 26','Vr 27','Za 28','Zo 29','Ma 30','Di 31','Wo 1','Do 2','Vr 3','Za 4','Zo 5','Ma 6'][floor(datum.value / 24)] : ''"}},
          "y": {"field": "v", "type": "quantitative", "scale": {"domain": [5, 35], "nice": false, "zero": false},
            "axis": {"title": null, "values": [5,10,15,20,25,30,35], "minExtent": 21, "maxExtent": 21}}
        },
        "layer": [
          {"transform": [{"filter": {"field": "k", "oneOf": ["m1","m2","m3","m4","m5","m6"]}}],
           "mark": {"type": "line", "strokeWidth": 1, "opacity": 0.55, "clip": true},
           "encoding": {"detail": {"field": "k"},
             "color": {"datum": "Members", "scale": {"domain": ["Oper","Control","Members","Average"], "range": ["#c8322f","#2b3a8f","#4aa83a","#1e1e1e"]},
               "legend": {"title": null, "symbolOpacity": 1, "encode": {"symbols": {"update": {"strokeDash": {"signal": "datum.label === 'Average' ? [2,1.5] : null"}, "strokeWidth": {"signal": "datum.label === 'Average' ? 1.5 : 2"}, "opacity": {"signal": "datum.label === 'Members' ? 0.3 : 1"}, "strokeOpacity": {"signal": "datum.label === 'Members' ? 0.6 : 1"}}}}}}}},
          {"transform": [{"filter": {"field": "k", "equal": "A"}}],
           "mark": {"type": "line", "strokeWidth": 1.5, "strokeDash": [1.5, 1.2], "clip": true},
           "encoding": {"color": {"datum": "Average", "scale": {"domain": ["Oper","Control","Members","Average"], "range": ["#c8322f","#2b3a8f","#4aa83a","#1e1e1e"]}}}},
          {"transform": [{"filter": {"field": "k", "equal": "C"}}],
           "mark": {"type": "line", "strokeWidth": 2.2, "clip": true},
           "encoding": {"color": {"datum": "Control", "scale": {"domain": ["Oper","Control","Members","Average"], "range": ["#c8322f","#2b3a8f","#4aa83a","#1e1e1e"]}}}},
          {"transform": [{"filter": {"field": "k", "equal": "O"}}],
           "mark": {"type": "line", "strokeWidth": 2.2, "clip": true},
           "encoding": {"color": {"datum": "Oper", "scale": {"domain": ["Oper","Control","Members","Average"], "range": ["#c8322f","#2b3a8f","#4aa83a","#1e1e1e"]}}}}
        ]
      }]}]}
    ]},
    {"spacing": 21, "resolve": {"scale": {"color": "independent"}}, "vconcat": [
      {"title": {"text": "Amerikaans model:", "anchor": "start", "frame": "bounds", "fontSize": 5.5, "offset": -5.5},
       "resolve": {"scale": {"color": "independent"}},
       "vconcat": [{
        "title": {"text": ["Infoplaza.nl - regio midden", "Gemaakt: ma 23 jul 09:00"], "anchor": "end", "frame": "bounds", "font": "Liberation Sans", "fontSize": 5, "fontWeight": "normal", "color": "#9a9a9a", "lineHeight": 6, "offset": -1.5, "dx": -1},
        "resolve": {"scale": {"color": "independent"}},
        "vconcat": [{
        "width": 339, "height": 142,
        "layer": [
          {"data": {"values": [{"s": 168, "e": 216}]},
           "mark": {"type": "rect", "color": "#f9ef8a", "opacity": 0.65},
           "encoding": {"x": {"field": "s", "type": "quantitative", "scale": {"domain": [0, 354.5], "nice": false, "zero": false},
               "axis": {"title": null, "grid": true, "values": [0,6,12,18,24,30,36,42,48,54,60,66,72,78,84,90,96,102,108,114,120,126,132,138,144,150,156,162,168,174,180,186,192,198,204,210,216,222,228,234,240,246,252,258,264,270,276,282,288,294,300,306,312,318,324,330,336,342,348,354],
                 "gridColor": {"condition": {"test": "datum.value % 24 === 0", "value": "#8f8f8f"}, "value": "#dedede"},
                 "labelOverlap": false, "labelFlush": false,
                 "labelExpr": "datum.value % 24 === 12 ? ['Ma 23','Di 24','Wo 25','Do 26','Vr 27','Za 28','Zo 29','Ma 30','Di 31','Wo 1','Do 2','Vr 3','Za 4','Zo 5','Ma 6'][floor(datum.value / 24)] : ''"}},
             "x2": {"field": "e"}}},
          {"data": {"name": "tr"},
           "transform": [{"fold": ["A","C","m1","m2","m3","m4","m5","m6"], "as": ["k","v"]}],
           "encoding": {
             "x": {"field": "t", "type": "quantitative", "scale": {"domain": [0, 354.5], "nice": false, "zero": false},
               "axis": {"title": null, "grid": true, "values": [0,6,12,18,24,30,36,42,48,54,60,66,72,78,84,90,96,102,108,114,120,126,132,138,144,150,156,162,168,174,180,186,192,198,204,210,216,222,228,234,240,246,252,258,264,270,276,282,288,294,300,306,312,318,324,330,336,342,348,354],
                 "gridColor": {"condition": {"test": "datum.value % 24 === 0", "value": "#8f8f8f"}, "value": "#dedede"},
                 "labelOverlap": false, "labelFlush": false,
                 "labelExpr": "datum.value % 24 === 12 ? ['Ma 23','Di 24','Wo 25','Do 26','Vr 27','Za 28','Zo 29','Ma 30','Di 31','Wo 1','Do 2','Vr 3','Za 4','Zo 5','Ma 6'][floor(datum.value / 24)] : ''"}},
             "y": {"field": "v", "type": "quantitative", "scale": {"domain": [5, 35], "nice": false, "zero": false},
               "axis": {"title": null, "values": [5,10,15,20,25,30,35], "minExtent": 13, "maxExtent": 13}}
           },
           "layer": [
             {"transform": [{"filter": {"field": "k", "oneOf": ["m1","m2","m3","m4","m5","m6"]}}],
              "mark": {"type": "line", "strokeWidth": 1, "opacity": 0.55, "clip": true},
              "encoding": {"detail": {"field": "k"},
                "color": {"datum": "Members", "scale": {"domain": ["Control","Members","Average"], "range": ["#2b3a8f","#4aa83a","#1e1e1e"]},
                  "legend": {"title": null, "symbolOpacity": 1, "encode": {"symbols": {"update": {"strokeDash": {"signal": "datum.label === 'Average' ? [2,1.5] : null"}, "strokeWidth": {"signal": "datum.label === 'Average' ? 1.5 : 2"}, "opacity": {"signal": "datum.label === 'Members' ? 0.3 : 1"}, "strokeOpacity": {"signal": "datum.label === 'Members' ? 0.6 : 1"}}}}}}}},
             {"transform": [{"filter": {"field": "k", "equal": "A"}}],
              "mark": {"type": "line", "strokeWidth": 1.5, "strokeDash": [1.5, 1.2], "clip": true},
              "encoding": {"color": {"datum": "Average", "scale": {"domain": ["Control","Members","Average"], "range": ["#2b3a8f","#4aa83a","#1e1e1e"]}}}},
             {"transform": [{"filter": {"field": "k", "equal": "C"}}],
              "mark": {"type": "line", "strokeWidth": 2.2, "clip": true},
              "encoding": {"color": {"datum": "Control", "scale": {"domain": ["Control","Members","Average"], "range": ["#2b3a8f","#4aa83a","#1e1e1e"]}}}}
           ]}
        ]
      }]}]},
      {"title": {"text": "Gemaakt: ma 23 jul 15:00", "anchor": "end", "frame": "bounds", "font": "Liberation Sans", "fontSize": 5, "fontWeight": "normal", "color": "#9a9a9a", "offset": -6.5, "dx": -1},
       "resolve": {"scale": {"color": "independent"}},
       "vconcat": [{
        "title": {"text": "Temperatuur 2m", "anchor": "middle", "frame": "bounds", "font": "Liberation Sans", "fontSize": 6.5, "fontWeight": "bold", "color": "#222", "dx": 64, "offset": -7.5},
        "resolve": {"scale": {"color": "independent"}},
        "vconcat": [{
        "width": 337, "height": 126,
        "layer": [
          {"data": {"values": [{"s": 168, "e": 216}]},
           "mark": {"type": "rect", "color": "#f9ef8a", "opacity": 0.65},
           "encoding": {"x": {"field": "s", "type": "quantitative", "scale": {"domain": [5.8, 357.7], "nice": false, "zero": false},
               "axis": {"title": "Infoplaza.nl - regio midden", "titleAnchor": "end", "titleAlign": "right", "titleFontSize": 4.5, "titleFontWeight": "normal", "titleColor": "#aaa", "titlePadding": 1, "grid": true,
                 "values": [6,12,18,24,30,36,42,48,54,60,66,72,78,84,90,96,102,108,114,120,126,132,138,144,150,156,162,168,174,180,186,192,198,204,210,216,222,228,234,240,246,252,258,264,270,276,282,288,294,300,306,312,318,324,330,336,342,348,354],
                 "gridColor": {"condition": {"test": "datum.value % 24 === 0", "value": "#8f8f8f"}, "value": "#dedede"},
                 "labelOverlap": false, "labelFlush": false,
                 "labelExpr": "datum.value % 24 === 12 ? ['Ma 23','Di 24','Wo 25','Do 26','Vr 27','Za 28','Zo 29','Ma 30','Di 31','Wo 1','Do 2','Vr 3','Za 4','Zo 5','Ma 6'][floor(datum.value / 24)] : ''"}},
             "x2": {"field": "e"}}},
          {"data": {"name": "br"},
           "transform": [{"fold": ["A","C","m1","m2","m3","m4","m5","m6"], "as": ["k","v"]}],
           "encoding": {
             "x": {"field": "t", "type": "quantitative", "scale": {"domain": [5.8, 357.7], "nice": false, "zero": false},
               "axis": {"title": "Infoplaza.nl - regio midden", "titleAnchor": "end", "titleAlign": "right", "titleFontSize": 4.5, "titleFontWeight": "normal", "titleColor": "#aaa", "titlePadding": 1, "grid": true,
                 "values": [6,12,18,24,30,36,42,48,54,60,66,72,78,84,90,96,102,108,114,120,126,132,138,144,150,156,162,168,174,180,186,192,198,204,210,216,222,228,234,240,246,252,258,264,270,276,282,288,294,300,306,312,318,324,330,336,342,348,354],
                 "gridColor": {"condition": {"test": "datum.value % 24 === 0", "value": "#8f8f8f"}, "value": "#dedede"},
                 "labelOverlap": false, "labelFlush": false,
                 "labelExpr": "datum.value % 24 === 12 ? ['Ma 23','Di 24','Wo 25','Do 26','Vr 27','Za 28','Zo 29','Ma 30','Di 31','Wo 1','Do 2','Vr 3','Za 4','Zo 5','Ma 6'][floor(datum.value / 24)] : ''"}},
             "y": {"field": "v", "type": "quantitative", "scale": {"domain": [4, 30], "nice": false, "zero": false},
               "axis": {"title": null, "values": [4,6,8,10,12,14,16,18,20,22,24,26,28,30], "minExtent": 19, "maxExtent": 19}}
           },
           "layer": [
             {"transform": [{"filter": {"field": "k", "oneOf": ["m1","m2","m3","m4","m5","m6"]}}],
              "mark": {"type": "line", "strokeWidth": 1, "opacity": 0.55, "clip": true},
              "encoding": {"detail": {"field": "k"},
                "color": {"datum": "Members", "scale": {"domain": ["Control","Members","Average"], "range": ["#2b3a8f","#4aa83a","#1e1e1e"]},
                  "legend": {"title": null, "symbolOpacity": 1, "encode": {"symbols": {"update": {"strokeDash": {"signal": "datum.label === 'Average' ? [2,1.5] : null"}, "strokeWidth": {"signal": "datum.label === 'Average' ? 1.5 : 2"}, "opacity": {"signal": "datum.label === 'Members' ? 0.3 : 1"}, "strokeOpacity": {"signal": "datum.label === 'Members' ? 0.6 : 1"}}}}}}}},
             {"transform": [{"filter": {"field": "k", "equal": "A"}}],
              "mark": {"type": "line", "strokeWidth": 1.5, "strokeDash": [1.5, 1.2], "clip": true},
              "encoding": {"color": {"datum": "Average", "scale": {"domain": ["Control","Members","Average"], "range": ["#2b3a8f","#4aa83a","#1e1e1e"]}}}},
             {"transform": [{"filter": {"field": "k", "equal": "C"}}],
              "mark": {"type": "line", "strokeWidth": 2.2, "clip": true},
              "encoding": {"color": {"datum": "Control", "scale": {"domain": ["Control","Members","Average"], "range": ["#2b3a8f","#4aa83a","#1e1e1e"]}}}}
           ]}
        ]
      }]}]}
    ]}
  ]
}]
}
